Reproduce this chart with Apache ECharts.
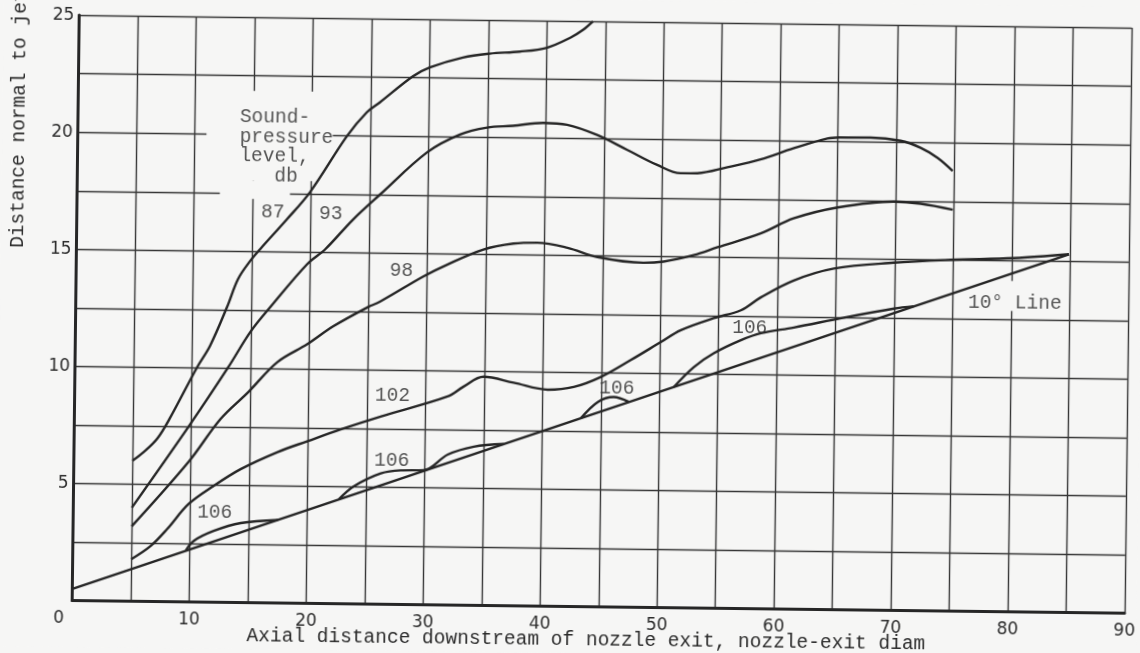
<!DOCTYPE html>
<html>
<head>
<meta charset="utf-8">
<script src="https://cdn.jsdelivr.net/npm/echarts@6/dist/echarts.min.js"></script>
<style>
  html, body { margin: 0; padding: 0; background: #f6f6f5; overflow: hidden; }
  #chart { width: 1140px; height: 653px; transform: rotate(0.69deg); }
</style>
</head>
<body>
<div id="chart"></div>
<script>
// ---------- data ----------
const xTickLabels = [0, 10, 20, 30, 40, 50, 60, 70, 80, 90];
const yTickLabels = [5, 10, 15, 20, 25];

// 10 degree reference line
const line10deg = [[0, 0.5], [84.88, 15.3]];

// sound-pressure-level contours (x: axial distance, y: distance normal to jet)
const spl87 = [[5, 6.0], [5.96, 6.38], [7.09, 6.95], [8.13, 7.81], [10.45, 10.04], [11.53, 10.96],
  [12.94, 12.62], [13.85, 13.82], [14.86, 14.59], [15.7, 15.1], [17.98, 16.4], [19.91, 17.56],
  [23.01, 19.97], [24.69, 21.0], [25.79, 21.43], [28.59, 22.56], [30.03, 22.95], [32.85, 23.39],
  [35.15, 23.57], [37.71, 23.67], [40.02, 23.85], [41.98, 24.28], [43.09, 24.63], [43.93, 25.0]];

const spl93 = [[5, 4.0], [9.76, 7.48], [13.11, 10.05], [14.95, 11.56], [16.63, 12.63], [19.75, 14.49],
  [21.27, 15.13], [23.63, 16.42], [25.91, 17.5], [29.88, 19.32], [32.68, 20.1], [34.99, 20.41],
  [37.21, 20.5], [39.78, 20.64], [41.83, 20.57], [44.41, 20.15], [47.0, 19.53], [49.58, 18.9],
  [51.57, 18.56], [53.02, 18.57], [55.58, 18.84], [58.4, 19.19], [61.21, 19.68], [64.11, 20.12],
  [65.22, 20.17], [67.79, 20.18], [70.36, 20.06], [72.09, 19.77], [73.55, 19.35], [74.85, 18.8]];

const spl98 = [[5, 3.2], [9.8, 5.98], [12.49, 7.83], [14.85, 9.0], [17.3, 10.29], [19.84, 11.07],
  [22.05, 11.85], [24.93, 12.67], [26.04, 12.93], [29.69, 14.02], [31.73, 14.54], [34.8, 15.2],
  [37.36, 15.47], [39.41, 15.52], [41.99, 15.32], [44.56, 14.94], [48.5, 14.72], [50.21, 14.78],
  [52.78, 15.07], [54.83, 15.42], [58.49, 16.03], [61.3, 16.69], [65.05, 17.18], [69.84, 17.46],
  [72.15, 17.38], [74.9, 17.14]];

const spl102 = [[5, 1.8], [6.66, 2.38], [8.05, 3.11], [9.86, 4.19], [11.97, 4.97], [14.26, 5.7],
  [17.41, 6.45], [19.96, 6.93], [22.78, 7.45], [26.18, 8.02], [31.89, 8.91], [33.25, 9.34],
  [34.95, 9.77], [37.53, 9.53], [40.45, 9.25], [42.67, 9.38], [44.97, 9.82], [47.52, 10.56],
  [50.06, 11.34], [51.76, 11.86], [54.57, 12.39], [56.88, 12.74], [58.57, 13.3], [61.37, 14.04],
  [64.79, 14.57], [69.91, 14.85], [74.78, 15.0], [80.18, 15.11], [84.88, 15.3]];

const spl106a = [[9.66, 2.2], [10.35, 2.62], [12.03, 3.05], [14.33, 3.4], [17.5, 3.55]];
const spl106b = [[22.69, 4.46], [23.95, 5.02], [26.26, 5.59], [27.96, 5.73], [29.93, 5.75],
  [31.97, 6.43], [34.18, 6.78], [36.75, 6.91]];
const spl106c = [[43.31, 8.05], [44.74, 8.75], [46.1, 8.97], [47.39, 8.77]];
const spl106d = [[51.23, 9.43], [52.92, 10.29], [54.61, 10.89], [56.91, 11.46], [58.62, 11.77],
  [61.43, 12.03], [65.7, 12.48], [69.96, 12.89], [71.67, 13.0]];

// curve annotations: text and anchor in data units
const curveLabelTexts = ['87', '93', '98', '102', '106', '106', '106', '106'];
const curveLabelAnchors = [[16.75, 16.68], [21.72, 16.63], [27.8, 14.27], [27.18, 8.93],
  [12.09, 3.82], [27.18, 6.15], [46.35, 9.36], [57.66, 11.97]];
const legendBlockText = 'Sound-\npressure\nlevel,\n   db';
const legendBlockAnchor = [13.84, 21.16];
const lineLabelText = '10° Line';
const lineLabelAnchor = [76.3, 13.17];

// places where the paper grid is interrupted around the handwritten text (data units)
const gridGaps = [
  [[11.0, 18.03], [21.8, 21.85]],
  [[12.2, 17.24], [18.2, 18.03]],
  [[79.5, 12.85], [80.5, 14.13]]
];

const xTitle = 'Axial distance downstream of nozzle exit, nozzle-exit diam';
const yTitle = 'Distance normal to jet';

// ---------- styles ----------
const BG = '#f6f6f5';
const INK = '#262626';
const GRIDC = '#363636';
const TXT = '#2c2c2c';
const MONO = '"Liberation Mono", "DejaVu Sans Mono", monospace';
const SANS = '"DejaVu Sans", sans-serif';

const chart = echarts.init(document.getElementById('chart'), null, { renderer: 'canvas' });

function curve(name, pts) {
  return {
    name: name, type: 'line', data: pts, smooth: 0.35,
    showSymbol: false, silent: true, z: 3,
    lineStyle: { color: INK, width: 2.4 }
  };
}

const labelData = curveLabelTexts.map((t, i) => ({ value: curveLabelAnchors[i], name: t }));
labelData.push({ value: legendBlockAnchor, name: legendBlockText,
  label: { align: 'left', verticalAlign: 'top', lineHeight: 19.7 } });
labelData.push({ value: lineLabelAnchor, name: lineLabelText,
  label: { align: 'left', verticalAlign: 'middle' } });

const option = {
  backgroundColor: BG,
  animation: false,
  grid: { left: 75.6, top: 21.1, right: 12.1, bottom: 46.4, containLabel: false, outerBoundsMode: 'none' },
  xAxis: {
    type: 'value', min: 0, max: 90, interval: 5,
    axisLine: { show: true, onZero: false, lineStyle: { color: INK, width: 3 } },
    axisTick: { show: false },
    splitLine: { show: true, lineStyle: { color: GRIDC, width: 1.4 } },
    axisLabel: {
      margin: 9, fontFamily: SANS, fontSize: 17, color: TXT,
      formatter: v => xTickLabels.includes(v) ? (v === 0 ? '{z|0}' : String(v)) : '',
      rich: { z: { fontFamily: SANS, fontSize: 17, color: TXT, padding: [0, 27, 0, 0] } }
    }
  },
  yAxis: {
    type: 'value', min: 0, max: 25, interval: 2.5,
    axisLine: { show: true, onZero: false, lineStyle: { color: INK, width: 3 } },
    axisTick: { show: false },
    splitLine: { show: true, lineStyle: { color: GRIDC, width: 1.4 } },
    axisLabel: {
      margin: 5, fontFamily: SANS, fontSize: 17, color: TXT,
      formatter: v => yTickLabels.includes(v) ? String(v) : ''
    }
  },
  series: [
    curve('10 deg line', line10deg),
    curve('87', spl87),
    curve('93', spl93),
    curve('98', spl98),
    curve('102', spl102),
    curve('106a', spl106a),
    curve('106b', spl106b),
    curve('106c', spl106c),
    curve('106d', spl106d),
    {
      name: 'labels', type: 'scatter', data: labelData, symbol: 'circle', symbolSize: 1,
      silent: true, z: 5,
      itemStyle: { color: 'rgba(0,0,0,0)' },
      label: {
        show: true, position: 'inside', formatter: p => p.name,
        fontFamily: MONO, fontSize: 19.5, color: TXT, align: 'center', verticalAlign: 'middle'
      },
      labelLayout: { hideOverlap: false }
    }
  ]
};

chart.setOption(option);

// masks that interrupt the grid (drawn above the grid, below the curves)
const masks = gridGaps.map(g => {
  const a = chart.convertToPixel({ gridIndex: 0 }, g[0]);
  const b = chart.convertToPixel({ gridIndex: 0 }, g[1]);
  return {
    type: 'rect', z: 1, silent: true,
    shape: { x: Math.min(a[0], b[0]), y: Math.min(a[1], b[1]),
             width: Math.abs(b[0] - a[0]), height: Math.abs(b[1] - a[1]) },
    style: { fill: BG }
  };
});

chart.setOption({
  graphic: masks.concat([
    {
      type: 'text', x: 16.5, y: 125.9, rotation: Math.PI / 2, silent: true, z: 5,
      style: { text: yTitle, fontFamily: MONO, fontSize: 19.5, fill: TXT,
               align: 'center', verticalAlign: 'middle' }
    },
    {
      type: 'text', x: 589.7, y: 640, silent: true, z: 5,
      style: { text: xTitle, fontFamily: MONO, fontSize: 19.5, fill: TXT,
               align: 'center', verticalAlign: 'middle' }
    }
  ])
});
</script>
</body>
</html>
